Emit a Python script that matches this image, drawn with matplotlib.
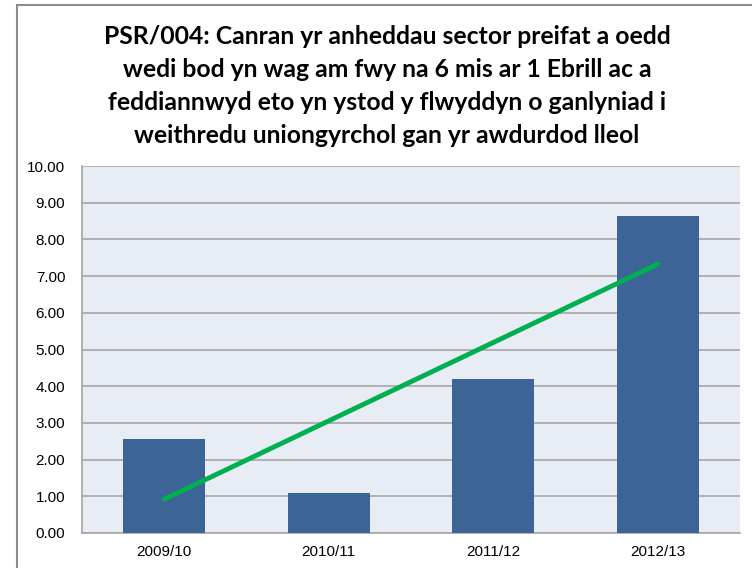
import numpy as np
import matplotlib.pyplot as plt
from matplotlib.patches import Rectangle

years = ['2009/10', '2010/11', '2011/12', '2012/13']
values = [2.56, 1.09, 4.20, 8.64]
title = ('PSR/004: Canran yr anheddau sector preifat a oedd\n'
         'wedi bod yn wag am fwy na 6 mis ar 1 Ebrill ac a\n'
         'feddiannwyd eto yn ystod y flwyddyn o ganlyniad i\n'
         'weithredu uniongyrchol gan yr awdurdod lleol')

plt.rcParams['font.family'] = 'Liberation Sans'

W, H = 752, 568
fig = plt.figure(figsize=(W / 100, H / 100), dpi=100)
ax = fig.add_axes([82 / W, 35 / H, (740 - 82) / W, (533 - 166) / H])

x = np.arange(len(years))
ax.bar(x, values, width=0.5, color='#3D6496', zorder=3)

# linear trend line
k, b = np.polyfit(x, values, 1)
ax.plot(x, k * x + b, color='#00B050', lw=3.5, solid_capstyle='round', zorder=4)

ax.set_xlim(-0.5, len(years) - 0.5)
ax.set_ylim(0, 10)
ax.set_yticks(np.arange(0, 11, 1))
ax.set_yticklabels([f'{v:.2f}' for v in np.arange(0, 11, 1)])
ax.set_xticks(x)
ax.set_xticklabels(years)
ax.set_facecolor('#E8ECF4')
ax.grid(axis='y', color='#A6A6A6', lw=1.2, zorder=1)
for side in ['top', 'right']:
    ax.spines[side].set_visible(False)
for side in ['left', 'bottom']:
    ax.spines[side].set_color('#A6A6A6')
    ax.spines[side].set_linewidth(1.2)
ax.tick_params(length=0, labelsize=11, colors='#000000')
ax.tick_params(axis='y', pad=12)
ax.tick_params(axis='x', pad=9)

fig.text(387 / W, 1 - 25 / H, title, ha='center', va='top', fontsize=17.8,
         fontweight='bold', family='Lato', linespacing=1.52)

fig.add_artist(Rectangle((17 / W, -0.1), 2, 1.1 - 5 / H, transform=fig.transFigure,
                         fill=False, edgecolor='#8C8C8C', lw=1.5))

fig.savefig('out.png', dpi=100)
